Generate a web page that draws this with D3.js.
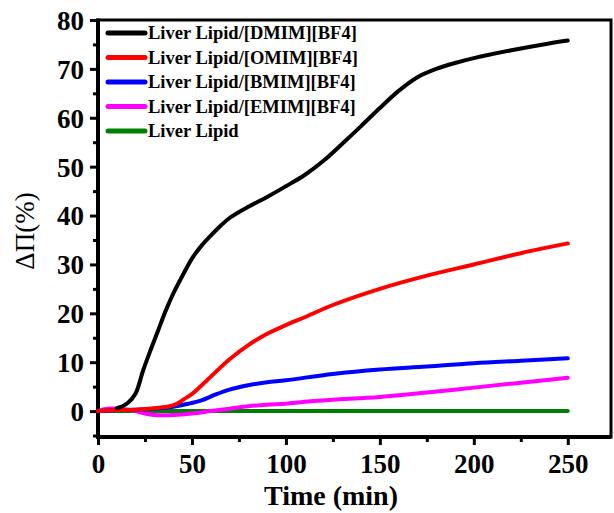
<!DOCTYPE html>
<html>
<head>
<meta charset="utf-8">
<script src="https://cdn.jsdelivr.net/npm/d3@7"></script>
<style>
  body { margin: 0; background: #fff; }
  text { font-family: "Liberation Serif", "Times New Roman", serif; }
</style>
</head>
<body>
<div id="chart"></div>
<script>
var svgWidth = 614;
var svgHeight = 513;

var margin = { top: 20, right: 3, bottom: 76, left: 98 };
var width = svgWidth - margin.left - margin.right;
var height = svgHeight - margin.top - margin.bottom;

// series data (time in min, delta pi in %)
var seriesNames = ["Liver Lipid/[DMIM][BF4]", "Liver Lipid/[OMIM][BF4]", "Liver Lipid/[BMIM][BF4]", "Liver Lipid/[EMIM][BF4]", "Liver Lipid"];
var seriesColors = ["#000000", "#ff0000", "#0000ff", "#ff00ff", "#008000"];

var dmimT = [10, 13, 16, 20, 24, 28, 32, 36, 40, 44, 50, 55, 60, 65, 70, 80, 90, 100, 110, 120, 130, 140, 150, 160, 170, 180, 190, 200, 220, 240, 250];
var dmimV = [0.6, 1, 1.7, 3.6, 8.3, 12.5, 16.5, 20.5, 24, 27, 31.2, 33.8, 35.9, 37.8, 39.5, 41.8, 43.8, 46, 48.3, 51.2, 54.7, 58.3, 62, 65.5, 68.3, 70, 71.2, 72.2, 73.8, 75.2, 75.8];

var omimT = [0, 10, 20, 30, 38, 42, 46, 50, 58, 70, 80, 90, 100, 110, 125, 150, 175, 200, 225, 250];
var omimV = [0, 0.2, 0.3, 0.6, 1.0, 1.5, 2.5, 3.5, 6.3, 10.6, 13.5, 15.8, 17.6, 19.2, 21.7, 25, 27.7, 30, 32.3, 34.3];

var bmimT = [0, 10, 20, 30, 40, 48, 55, 62, 70, 80, 90, 100, 125, 150, 175, 200, 225, 250];
var bmimV = [0, 0.2, 0.3, 0.5, 0.9, 1.5, 2.2, 3.3, 4.4, 5.3, 5.9, 6.3, 7.6, 8.5, 9.1, 9.8, 10.3, 10.8];

var emimT = [0, 5, 15, 20, 25, 30, 40, 50, 60, 70, 80, 90, 100, 110, 125, 150, 175, 200, 225, 250];
var emimV = [0, 0.5, 0.3, 0, -0.5, -0.8, -0.8, -0.5, 0, 0.5, 1.0, 1.3, 1.5, 1.9, 2.3, 2.9, 3.8, 4.8, 5.8, 6.8];

var lipidT = [0, 50, 100, 150, 200, 250];
var lipidV = [0, 0, 0, 0, 0, 0];

var xTicks = [0, 50, 100, 150, 200, 250];
var yTicks = [0, 10, 20, 30, 40, 50, 60, 70, 80];

var allT = [dmimT, omimT, bmimT, emimT, lipidT];
var allV = [dmimV, omimV, bmimV, emimV, lipidV];

var svg = d3.select("#chart")
  .append("svg")
  .attr("width", svgWidth)
  .attr("height", svgHeight);

var chartGroup = svg.append("g")
  .attr("transform", `translate(${margin.left}, ${margin.top})`);

var xScale = d3.scaleLinear().domain([0, 273]).range([0, width]);
var yScale = d3.scaleLinear().domain([-5.3, 80]).range([height, 0]);

// minor ticks
var xMinor = d3.axisBottom(xScale).tickValues([25, 75, 125, 175, 225]).tickSize(5).tickFormat("");
var yMinor = d3.axisLeft(yScale).tickValues([-5, 5, 15, 25, 35, 45, 55, 65, 75]).tickSize(5).tickFormat("");

chartGroup.append("g")
  .attr("class", "minor")
  .attr("transform", `translate(0, ${height})`)
  .call(xMinor);
chartGroup.append("g")
  .attr("class", "minor")
  .call(yMinor);

// major axes
var bottomAxis = d3.axisBottom(xScale).tickValues(xTicks).tickSize(8).tickPadding(9);
var leftAxis = d3.axisLeft(yScale).tickValues(yTicks).tickSize(8).tickPadding(6);

chartGroup.append("g")
  .attr("class", "xaxis")
  .attr("transform", `translate(0, ${height})`)
  .call(bottomAxis);
chartGroup.append("g")
  .attr("class", "yaxis")
  .call(leftAxis);

chartGroup.selectAll(".domain").remove();
chartGroup.selectAll(".tick line").attr("stroke", "#000").attr("stroke-width", 3);
chartGroup.selectAll(".tick text")
  .attr("fill", "#000")
  .style("font-size", "27px")
  .style("font-weight", "bold");
chartGroup.selectAll(".yaxis .tick text").attr("dy", "0.35em");
chartGroup.selectAll(".xaxis .tick text").attr("dy", "0.72em");

// frame
chartGroup.append("rect")
  .attr("x", 0)
  .attr("y", 0)
  .attr("width", width)
  .attr("height", height)
  .attr("fill", "none")
  .attr("stroke", "#000")
  .attr("stroke-width", 3);
chartGroup.append("line")
  .attr("x1", 0).attr("x2", 0)
  .attr("y1", -1.5).attr("y2", height + 1.5)
  .attr("stroke", "#000")
  .attr("stroke-width", 4);
chartGroup.append("line")
  .attr("x1", -2).attr("x2", width)
  .attr("y1", height).attr("y2", height)
  .attr("stroke", "#000")
  .attr("stroke-width", 4);

// curves
var line = d3.line()
  .x(d => xScale(d[0]))
  .y(d => yScale(d[1]))
  .curve(d3.curveCatmullRom.alpha(0.5));

// draw from bottom to top so black sits on top
for (var i = allT.length - 1; i >= 0; i--) {
  var pts = allT[i].map((t, j) => [t, allV[i][j]]);
  chartGroup.append("path")
    .datum(pts)
    .attr("fill", "none")
    .attr("stroke", seriesColors[i])
    .attr("stroke-width", 4)
    .attr("stroke-linecap", "round")
    .attr("d", line);
}

// legend
var legend = chartGroup.append("g").attr("transform", "translate(10, 13)");
seriesNames.forEach(function(name, i) {
  var row = legend.append("g").attr("transform", `translate(0, ${i * 24.5})`);
  row.append("line")
    .attr("x1", 0).attr("x2", 37)
    .attr("y1", 0).attr("y2", 0)
    .attr("stroke", seriesColors[i])
    .attr("stroke-width", 5)
    .attr("stroke-linecap", "round");
  row.append("text")
    .attr("x", 40)
    .attr("y", 0)
    .attr("dy", "0.35em")
    .style("font-size", "18.5px")
    .style("font-weight", "bold")
    .text(name);
});

// axis labels
svg.append("text")
  .attr("transform", "translate(34, 231) rotate(-90)")
  .attr("text-anchor", "middle")
  .style("font-size", "27px")
  .text("ΔΠ(%)");

svg.append("text")
  .attr("x", 331)
  .attr("y", 505)
  .attr("text-anchor", "middle")
  .style("font-size", "28px")
  .style("font-weight", "bold")
  .text("Time (min)");
</script>
</body>
</html>
